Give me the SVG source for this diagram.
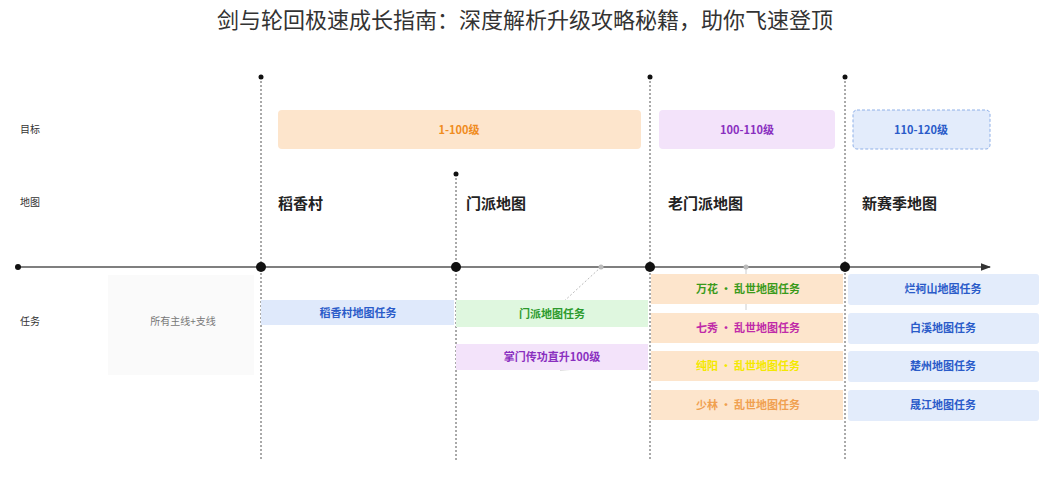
<svg xmlns="http://www.w3.org/2000/svg" width="1051" height="500" viewBox="0 0 1051 500">
<style>
text{font-family:"Noto Sans CJK SC","Liberation Sans",sans-serif}
.t{font-size:22px;fill:#333;text-anchor:middle}
.lab{font-size:10px;fill:#333}
.map{font-size:15px;font-weight:bold;fill:#222}
.b{font-size:11px;font-weight:bold;text-anchor:middle}
.g{font-size:14px;font-weight:bold;text-anchor:middle}
.v{stroke:#555;stroke-width:1;stroke-dasharray:2,2}
</style>
<defs><marker id="ar" markerWidth="8" markerHeight="8" refX="7" refY="4" orient="auto"><path d="M0,1 L8,4 L0,7Z" fill="#333"/></marker></defs>
<rect width="1051" height="500" fill="#fff"/>
<text class="t" x="525" y="28">剑与轮回极速成长指南：深度解析升级攻略秘籍，助你飞速登顶</text>
<text class="lab" x="20" y="133">目标</text>
<text class="lab" x="20" y="206">地图</text>
<text class="lab" x="20" y="325">任务</text>
<g id="connectors">
<line class="v" x1="261" y1="77" x2="261" y2="460"/>
<line class="v" x1="456" y1="174" x2="456" y2="460"/>
<line class="v" x1="650" y1="77" x2="650" y2="460"/>
<line class="v" x1="845" y1="77" x2="845" y2="460"/>
<line x1="18" y1="267" x2="990" y2="267" stroke="#555" stroke-width="1.3" marker-end="url(#ar)"/>
<line x1="601" y1="267" x2="560" y2="305" stroke="#bbb" stroke-dasharray="2,2"/>
<line x1="746" y1="267" x2="746" y2="310" stroke="#ccc"/>
<line x1="560" y1="370" x2="640" y2="366" stroke="#bbb"/>
<g fill="#111"><circle cx="18" cy="267" r="3"/><circle cx="261" cy="267" r="5"/><circle cx="456" cy="267" r="5"/><circle cx="650" cy="267" r="5"/><circle cx="845" cy="267" r="5"/>
<circle cx="261" cy="77" r="2.5"/><circle cx="456" cy="174" r="2.5"/><circle cx="650" cy="77" r="2.5"/><circle cx="845" cy="77" r="2.5"/></g>
<circle cx="601" cy="267" r="2.5" fill="#bbb"/><circle cx="746" cy="267" r="2.5" fill="#bbb"/>
</g>
<g id="goal1"><rect x="278" y="110" width="363" height="39" rx="4" fill="#fde5cc"/><text class="b" x="459" y="134" fill="#f08c1e" font-size="13">1-100级</text></g>
<g id="goal2"><rect x="659" y="110" width="176" height="39" rx="4" fill="#f3e3fa"/><text class="b" x="747" y="134" fill="#8a2fc0" font-size="13">100-110级</text></g>
<g id="goal3"><rect x="853" y="110" width="137" height="39" rx="4" fill="#e3ecfb" stroke="#8fb0e8" stroke-dasharray="3,2"/><text class="b" x="921" y="134" fill="#2a5bc9" font-size="13">110-120级</text></g>
<g id="map1"><text class="map" x="278" y="209">稻香村</text></g>
<g id="map2"><text class="map" x="466" y="209">门派地图</text></g>
<g id="map3"><text class="map" x="668" y="209">老门派地图</text></g>
<g id="map4"><text class="map" x="862" y="209">新赛季地图</text></g>
<g id="all"><rect x="108" y="275" width="146" height="100" fill="#fafafa"/><text x="183" y="325" font-size="10" fill="#777" text-anchor="middle">所有主线+支线</text></g>
<g id="t1"><rect x="261" y="300" width="193" height="25" fill="#dfe9fb"/><text class="b" x="358" y="317" fill="#2a5bc9">稻香村地图任务</text></g>
<g id="t2"><rect x="456" y="300" width="192" height="27" fill="#dff7df"/><text class="b" x="552" y="318" fill="#2c9a2c">门派地图任务</text></g>
<g id="t3"><rect x="456" y="344" width="192" height="26" fill="#f3e3fa"/><text class="b" x="552" y="361" fill="#8a2fc0">掌门传功直升100级</text></g>
<g id="t4"><rect x="651" y="274" width="192" height="30" fill="#fde5cc"/><text class="b" x="748" y="293" fill="#3a9a1a">万花 · 乱世地图任务</text></g>
<g id="t5"><rect x="651" y="313" width="192" height="30" fill="#fde5cc"/><text class="b" x="748" y="332" fill="#c02aa8">七秀 · 乱世地图任务</text></g>
<g id="t6"><rect x="651" y="351" width="192" height="30" fill="#fde5cc"/><text class="b" x="748" y="370" fill="#f4e800">纯阳 · 乱世地图任务</text></g>
<g id="t7"><rect x="651" y="390" width="192" height="30" fill="#fde5cc"/><text class="b" x="748" y="409" fill="#f0a050">少林 · 乱世地图任务</text></g>
<g id="t8"><rect x="848" y="274" width="191" height="31" rx="3" fill="#e3ecfb"/><text class="b" x="943" y="293" fill="#2a5bc9">烂柯山地图任务</text></g>
<g id="t9"><rect x="848" y="313" width="191" height="31" rx="3" fill="#e3ecfb"/><text class="b" x="943" y="332" fill="#2a5bc9">白溪地图任务</text></g>
<g id="t10"><rect x="848" y="351" width="191" height="31" rx="3" fill="#e3ecfb"/><text class="b" x="943" y="370" fill="#2a5bc9">楚州地图任务</text></g>
<g id="t11"><rect x="848" y="390" width="191" height="31" rx="3" fill="#e3ecfb"/><text class="b" x="943" y="409" fill="#2a5bc9">晟江地图任务</text></g>
</svg>
